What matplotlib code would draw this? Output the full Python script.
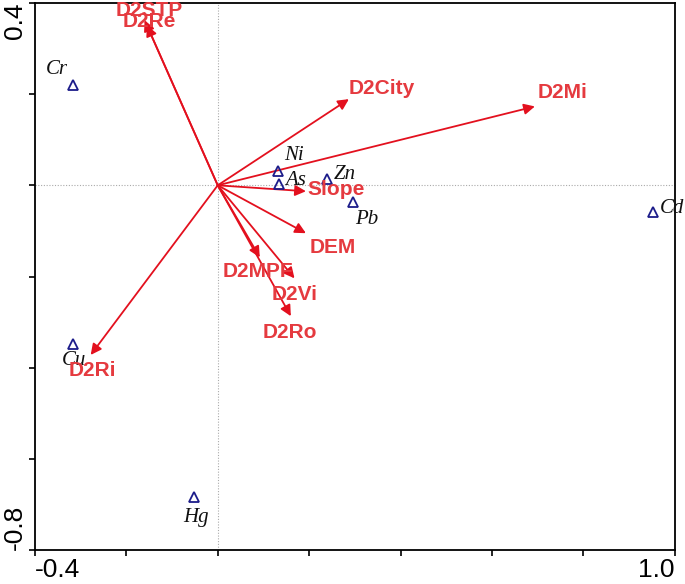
import matplotlib
matplotlib.use("Agg")
import matplotlib.pyplot as plt

# Species (response) scores
species = ["Cr", "Cu", "Hg", "Ni", "As", "Zn", "Pb", "Cd"]
sp_x = [-0.317, -0.317, -0.053, 0.131, 0.133, 0.239, 0.295, 0.952]
sp_y = [0.219, -0.349, -0.684, 0.031, 0.002, 0.013, -0.037, -0.059]

# Environmental variable arrows (tips)
env = ["D2STP", "D2Re", "D2City", "D2Mi", "Slope", "DEM", "D2MPF", "D2Vi", "D2Ro", "D2Ri"]
env_x = [-0.160, -0.155, 0.287, 0.694, 0.193, 0.193, 0.092, 0.168, 0.160, -0.278]
env_y = [0.362, 0.351, 0.189, 0.173, -0.013, -0.105, -0.158, -0.204, -0.287, -0.372]

x_ticks = [-0.4, -0.2, 0.0, 0.2, 0.4, 0.6, 0.8, 1.0]
y_ticks = [-0.8, -0.6, -0.4, -0.2, 0.0, 0.2, 0.4]
x_ticklabels = ["-0.4", "", "", "", "", "", "", "1.0"]
y_ticklabels = ["-0.8", "", "", "", "", "", "0.4"]

fig = plt.figure(figsize=(6.85, 5.84), dpi=100)
ax = fig.add_axes([0.051, 0.058, 0.934, 0.937])
ax.set_xlim(-0.4, 1.0)
ax.set_ylim(-0.8, 0.4)

ax.axvline(0, color="#aaaaaa", lw=0.8, ls=(0, (1, 1.5)), zorder=0)
ax.axhline(0, color="#aaaaaa", lw=0.8, ls=(0, (1, 1.5)), zorder=0)

arrow_col = "#e3101e"
text_col = "#e53a3f"

for x, y in zip(env_x, env_y):
    ax.annotate("", xy=(x, y), xytext=(0, 0),
                arrowprops=dict(arrowstyle="-|>", color=arrow_col, lw=1.3,
                                mutation_scale=16, shrinkA=0, shrinkB=0),
                zorder=2)

# label offsets (data units) relative to arrow tips
env_lab_dx = [0.01, 0.005, 0.072, 0.061, 0.065, 0.058, -0.003, 0.0, -0.003, 0.004]
env_lab_dy = [0.021, 0.009, 0.024, 0.03, 0.004, -0.032, -0.03, -0.035, -0.035, -0.034]
for name, x, y, dx, dy in zip(env, env_x, env_y, env_lab_dx, env_lab_dy):
    ax.text(x + dx, y + dy, name, color=text_col, fontsize=15, fontweight="bold",
            family="Liberation Sans", ha="center", va="center", zorder=4)

ax.plot(sp_x, sp_y, linestyle="none", marker="^", markersize=7,
        markerfacecolor="none", markeredgecolor="#1c1c8a", markeredgewidth=1.3, zorder=3)

sp_lab_dx = [-0.035, 0.003, 0.005, 0.035, 0.037, 0.039, 0.03, 0.042]
sp_lab_dy = [0.035, -0.035, -0.045, 0.035, 0.008, 0.01, -0.038, 0.008]
for name, x, y, dx, dy in zip(species, sp_x, sp_y, sp_lab_dx, sp_lab_dy):
    ax.text(x + dx, y + dy, name, color="#111111", fontsize=15, style="italic",
            family="Liberation Serif", ha="center", va="center", zorder=3,
            clip_on=False)

ax.set_xticks(x_ticks)
ax.set_xticklabels(x_ticklabels)
ax.set_yticks(y_ticks)
ax.set_yticklabels(y_ticklabels, rotation=90)
ax.tick_params(direction="out", length=4, width=1.2, labelsize=19, pad=2)
for lab in ax.get_xticklabels() + ax.get_yticklabels():
    lab.set_family("Liberation Sans")
xl = ax.get_xticklabels()
xl[0].set_ha("left")
xl[-1].set_ha("right")
yl = ax.get_yticklabels()
yl[0].set_va("bottom")
yl[-1].set_va("top")

for s in ax.spines.values():
    s.set_linewidth(1.3)

fig.savefig("out.png", dpi=100)
